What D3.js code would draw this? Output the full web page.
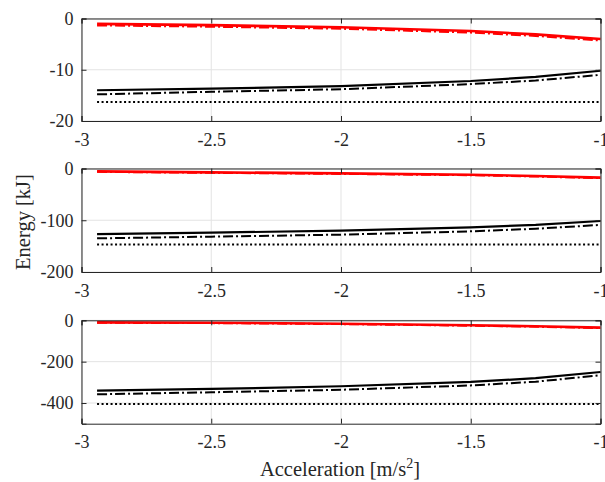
<!DOCTYPE html>
<html>
<head>
<meta charset="utf-8">
<script src="https://cdn.jsdelivr.net/npm/d3@7"></script>
<style>
  body { margin: 0; background: #fff; }
  svg { display: block; }
  svg text { font-family: "Liberation Serif", "Times New Roman", serif; fill: #262626; }
</style>
</head>
<body>
<svg id="chart" width="605" height="482"></svg>
<script>
// Acceleration samples [m/s^2]
const accel = [-2.94, -2.5, -2, -1.5, -1.25, -1];

// Panel 1 energies [kJ]
const p1RedSolid   = [-1.05, -1.3, -1.7, -2.45, -3.1, -4.0];
const p1RedDashDot = [-1.35, -1.6, -2.0, -2.75, -3.4, -4.3];
const p1BlkSolid   = [-14.0, -13.7, -13.2, -12.2, -11.4, -10.2];
const p1BlkDashDot = [-14.8, -14.3, -13.8, -12.8, -12.1, -11.0];
const p1BlkDotted  = [-16.3, -16.3, -16.3, -16.3, -16.3, -16.3];

// Panel 2 energies [kJ]
const p2RedSolid   = [-5.5, -7.4, -9.4, -12.0, -14.5, -17.7];
const p2RedDashDot = [-6.5, -8.4, -10.4, -13.0, -15.5, -18.7];
const p2BlkSolid   = [-127, -124, -120, -113.7, -109, -101.5];
const p2BlkDashDot = [-135, -131.7, -127.8, -121.4, -116.5, -109];
const p2BlkDotted  = [-147, -147, -147, -147, -147, -147];

// Panel 3 energies [kJ]
const p3RedSolid   = [-10, -11.6, -16.4, -24, -29, -35.6];
const p3RedDashDot = [-12, -13.6, -18.4, -26, -31, -37.6];
const p3BlkSolid   = [-340, -332, -319, -298, -280, -250];
const p3BlkDashDot = [-358, -348, -336, -315, -297, -266];
const p3BlkDotted  = [-405, -405, -405, -405, -405, -405];

// Axis ticks
const xTicks = [-3, -2.5, -2, -1.5, -1];
const xTickLabels = ["-3", "-2.5", "-2", "-1.5", "-1"];
const p1YTicks = [0, -10, -20];
const p2YTicks = [0, -100, -200];
const p3YTicks = [0, -200, -400];

const panels = [
  { yDomain: [-20, 0],  yTicks: p1YTicks, top: 18.5,  bottom: 121,
    series: [p1BlkDotted, p1BlkDashDot, p1BlkSolid, p1RedDashDot, p1RedSolid] },
  { yDomain: [-200, 0], yTicks: p2YTicks, top: 168.5, bottom: 272,
    series: [p2BlkDotted, p2BlkDashDot, p2BlkSolid, p2RedDashDot, p2RedSolid] },
  { yDomain: [-500, 0], yTicks: p3YTicks, top: 320.3, bottom: 423.7,
    series: [p3BlkDotted, p3BlkDashDot, p3BlkSolid, p3RedDashDot, p3RedSolid] }
];

// Styles in the same order as each panel's series list
const styles = [
  { color: "#000", width: 2,   dash: "2,2.5" },
  { color: "#000", width: 2,   dash: "10,3,2,3" },
  { color: "#000", width: 2.2, dash: null },
  { color: "#ff0000", width: 2, dash: "10,3,2,3" },
  { color: "#ff0000", width: 2.6, dash: null }
];

const svg = d3.select("#chart");
const left = 81.5, right = 600.5;
const x = d3.scaleLinear().domain([-3, -1]).range([left, right]);
const axisColor = "#262626";
const fontFamily = '"Liberation Serif", "Times New Roman", serif';

function styleAxis(ag) {
  ag.attr("font-family", fontFamily).attr("font-size", 18);
  ag.select(".domain").attr("stroke", axisColor).attr("stroke-width", 1);
  ag.selectAll(".tick line").attr("stroke", axisColor);
  ag.selectAll(".tick text").attr("fill", axisColor)
    .style("font-family", fontFamily).style("font-size", "18px");
}

panels.forEach(p => {
  const y = d3.scaleLinear().domain(p.yDomain).range([p.bottom, p.top]);
  const g = svg.append("g");

  // grid
  g.selectAll(".gx").data(xTicks).enter().append("line")
    .attr("x1", d => x(d)).attr("x2", d => x(d))
    .attr("y1", p.top).attr("y2", p.bottom)
    .attr("stroke", "#e3e3e3").attr("stroke-width", 1);
  g.selectAll(".gy").data(p.yTicks).enter().append("line")
    .attr("x1", left).attr("x2", right)
    .attr("y1", d => y(d)).attr("y2", d => y(d))
    .attr("stroke", "#e3e3e3").attr("stroke-width", 1);

  // data lines
  const line = d3.line().x((d, i) => x(accel[i])).y(d => y(d));
  p.series.forEach((s, k) => {
    const st = styles[k];
    g.append("path").datum(s)
      .attr("d", line)
      .attr("fill", "none")
      .attr("stroke", st.color)
      .attr("stroke-width", st.width)
      .attr("stroke-dasharray", st.dash)
      .attr("stroke-linejoin", "round");
  });

  // box axes with inward ticks
  const bottomAx = g.append("g").attr("transform", `translate(0,${p.bottom})`)
    .call(d3.axisBottom(x).tickValues(xTicks).tickSize(-5).tickPadding(0)
      .tickFormat((d, i) => xTickLabels[i]));
  styleAxis(bottomAx);
  bottomAx.selectAll(".tick text").attr("y", 12).attr("dy", "0.71em");

  const topAx = g.append("g").attr("transform", `translate(0,${p.top})`)
    .call(d3.axisTop(x).tickValues(xTicks).tickSize(-5).tickFormat(""));
  styleAxis(topAx);

  const leftAx = g.append("g").attr("transform", `translate(${left},0)`)
    .call(d3.axisLeft(y).tickValues(p.yTicks).tickSize(-5).tickPadding(0)
      .tickFormat(d => String(d)));
  styleAxis(leftAx);
  leftAx.selectAll(".tick text").attr("x", -8).attr("dy", "0.32em");

  const rightAx = g.append("g").attr("transform", `translate(${right},0)`)
    .call(d3.axisRight(y).tickValues(p.yTicks).tickSize(-5).tickFormat(""));
  styleAxis(rightAx);
});

svg.append("text")
  .attr("x", 340).attr("y", 476)
  .attr("text-anchor", "middle")
  .style("font-size", "20.5px")
  .html('Acceleration [m/s<tspan dy="-8" style="font-size:14px">2</tspan><tspan dy="8">]</tspan>');

svg.append("text")
  .attr("transform", "translate(30,222) rotate(-90)")
  .attr("text-anchor", "middle")
  .style("font-size", "20.5px")
  .text("Energy [kJ]");
</script>
</body>
</html>
